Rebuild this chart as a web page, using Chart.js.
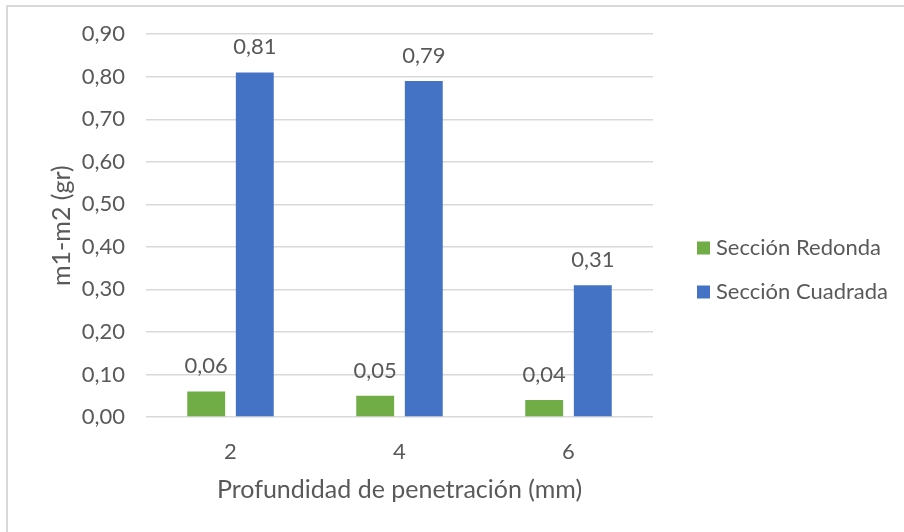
<!DOCTYPE html>
<html>
<head>
<meta charset="utf-8">
<script src="https://cdn.jsdelivr.net/npm/chart.js@4.4.1/dist/chart.umd.min.js"></script>
<style>
  html, body { margin: 0; padding: 0; background: #ffffff; }
  body { width: 904px; height: 532px; overflow: hidden; }
  #frame {
    position: absolute; left: 6px; top: 5px; width: 920px; height: 560px;
    border-left: 2px solid #d9d9d9; border-top: 2px solid #d9d9d9;
    box-sizing: border-box;
  }
  #wrap { position: absolute; left: 0; top: 0; width: 904px; height: 532px; }
</style>
</head>
<body>
<div id="frame"></div>
<div id="wrap"><canvas id="chart" width="904" height="532"></canvas></div>
<script>
// Profundidad de penetración (mm)
const categories = ['2', '4', '6'];
const seccionRedonda = [0.06, 0.05, 0.04];
const seccionCuadrada = [0.81, 0.79, 0.31];
const seriesNames = ['Sección Redonda', 'Sección Cuadrada'];
const seriesColors = ['#70AD47', '#4472C4'];
const yTicks = [0, 0.1, 0.2, 0.3, 0.4, 0.5, 0.6, 0.7, 0.8, 0.9];

const TEXT = '#595959';
const FONT = 'Lato, "Open Sans", sans-serif';

const fmt = v => v.toFixed(2).replace('.', ',');

// Value labels above each bar
const barLabels = {
  id: 'barLabels',
  afterDatasetsDraw(chart) {
    const ctx = chart.ctx;
    ctx.save();
    ctx.font = '22px ' + FONT;
    ctx.fillStyle = TEXT;
    ctx.textAlign = 'center';
    ctx.textBaseline = 'alphabetic';
    chart.data.datasets.forEach((ds, i) => {
      chart.getDatasetMeta(i).data.forEach((bar, j) => {
        ctx.fillText(fmt(ds.data[j]), bar.x, bar.y - 18);
      });
    });
    ctx.restore();
  }
};

// Legend to the right of the plot, one row per dataset
const sideLegend = {
  id: 'sideLegend',
  afterDraw(chart) {
    const ctx = chart.ctx;
    const area = chart.chartArea;
    const x = area.right + 44;
    const rowGap = 44;
    const n = chart.data.datasets.length;
    const y0 = 270 - (n - 1) * rowGap / 2;
    ctx.save();
    ctx.font = '22px ' + FONT;
    ctx.textBaseline = 'middle';
    ctx.textAlign = 'left';
    chart.data.datasets.forEach((ds, i) => {
      const y = y0 + i * rowGap;
      ctx.fillStyle = ds.backgroundColor;
      ctx.fillRect(x, y - 6.5, 13, 13);
      ctx.fillStyle = TEXT;
      ctx.fillText(ds.label, x + 19, y);
    });
    ctx.restore();
  }
};

new Chart(document.getElementById('chart'), {
  type: 'bar',
  data: {
    labels: categories,
    datasets: [
      { label: seriesNames[0], data: seccionRedonda, backgroundColor: seriesColors[0] },
      { label: seriesNames[1], data: seccionCuadrada, backgroundColor: seriesColors[1] }
    ]
  },
  options: {
    responsive: false,
    animation: false,
    categoryPercentage: 0.575,
    barPercentage: 0.78,
    layout: { padding: { top: 23, right: 251, bottom: 15, left: 24 } },
    plugins: {
      tooltip: { enabled: false },
      legend: { display: false }
    },
    scales: {
      x: {
        grid: { display: false },
        border: { display: false },
        afterFit(s) { s.height = 100; },
        ticks: { color: TEXT, font: { family: FONT, size: 22 }, padding: 14 },
        title: {
          display: true,
          text: 'Profundidad de penetración (mm)',
          color: TEXT,
          font: { family: FONT, size: 25 },
          padding: { top: 8, bottom: 12 }
        }
      },
      y: {
        min: 0,
        max: 0.9,
        afterBuildTicks(axis) { axis.ticks = yTicks.map(v => ({ value: v })); },
        afterFit(s) { s.width = 122; },
        grid: { color: '#d9d9d9', lineWidth: 1.5, drawTicks: false },
        border: { display: false },
        ticks: {
          color: TEXT,
          font: { family: FONT, size: 22 },
          padding: 21,
          callback: v => fmt(v)
        },
        title: {
          display: true,
          text: 'm1-m2 (gr)',
          color: TEXT,
          font: { family: FONT, size: 25 },
          padding: { top: 23, bottom: 0 }
        }
      }
    }
  },
  plugins: [barLabels, sideLegend]
});
</script>
</body>
</html>
